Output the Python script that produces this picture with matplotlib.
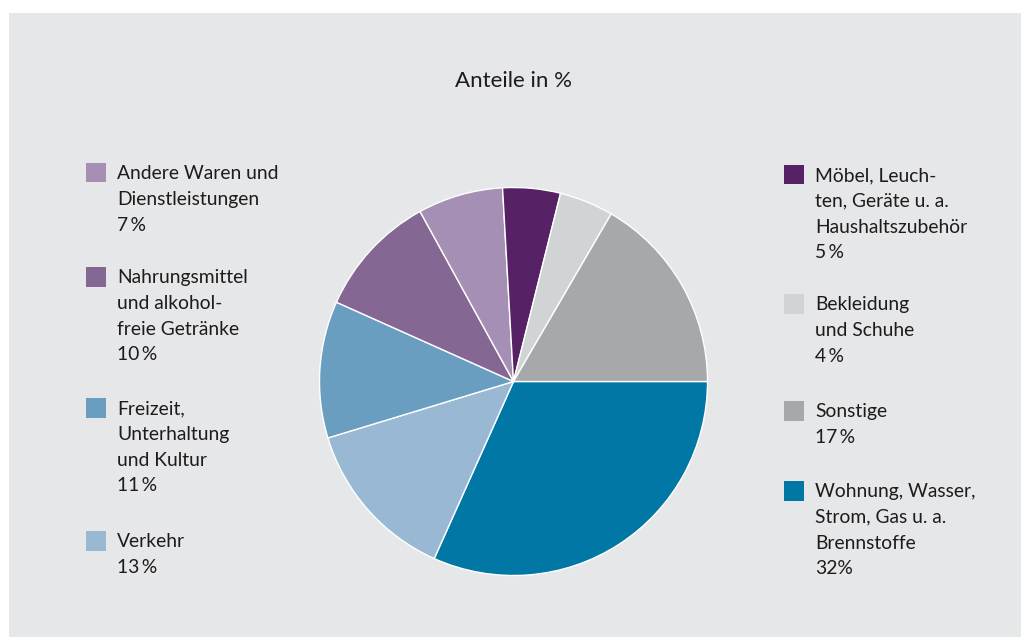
import matplotlib.pyplot as plt
from matplotlib.patches import Rectangle

W, H = 1021, 637

categories = [
    "Wohnung, Wasser,\nStrom, Gas u. a.\nBrennstoffe",
    "Verkehr",
    "Freizeit,\nUnterhaltung\nund Kultur",
    "Nahrungsmittel\nund alkohol-\nfreie Getränke",
    "Andere Waren und\nDienstleistungen",
    "Möbel, Leuch-\nten, Geräte u. a.\nHaushaltszubehör",
    "Bekleidung\nund Schuhe",
    "Sonstige",
]
# slice sizes (the printed labels are rounded)
shares = [31.7, 13.6, 11.4, 10.3, 7.1, 4.8, 4.5, 16.6]
share_labels = ["32%", "13\u2009%", "11\u2009%", "10\u2009%", "7\u2009%", "5\u2009%", "4\u2009%", "17\u2009%"]
colors = ["#0077a5", "#99b8d3", "#6a9ec0", "#846793", "#a58fb4", "#572165", "#d2d3d5", "#a7a8ab"]

# legend placement: (x of square, top of square) in px
legend_pos = {
    0: (784, 481), 1: (86, 531), 2: (86, 398), 3: (86, 267),
    4: (86, 163), 5: (784, 165), 6: (784, 294), 7: (784, 401),
}

plt.rcParams['font.family'] = ['Lato', 'DejaVu Sans']
text_color = "#1e1b1c"

fig = plt.figure(figsize=(W / 100, H / 100), dpi=100)
fig.patch.set_facecolor("white")
fig.patches.append(Rectangle((9 / W, 0), 1 - 9 / W, 1 - 13 / H, transform=fig.transFigure,
                             facecolor="#e6e7e8", edgecolor="none", zorder=-5))

def fx(px):
    return px / W

def fy(py):
    return 1 - py / H

# pie
cx, cy, r = 513.5, 381.5, 194
ax = fig.add_axes([fx(cx - r), fy(cy + r), 2 * r / W, 2 * r / H])
ax.pie(shares, colors=colors, startangle=0, counterclock=False, radius=1,
       wedgeprops=dict(edgecolor="white", linewidth=1.0))
ax.set_xlim(-1, 1)
ax.set_ylim(-1, 1)
ax.set_aspect("equal")
ax.axis("off")

fig.text(fx(513.5), fy(81), "Anteile in %", ha="center", va="center", fontsize=16, color=text_color)

line_step = 25.8
sq = 19.5
for i, (cat, lab) in enumerate(zip(categories, share_labels)):
    x, top = legend_pos[i]
    fig.patches.append(Rectangle((fx(x), fy(top + sq)), sq / W, sq / H, transform=fig.transFigure,
                                 facecolor=colors[i], edgecolor="none", zorder=2))
    lines = cat.split("\n") + [lab]
    tx = x + 31
    for j, line in enumerate(lines):
        fig.text(fx(tx), fy(top + 10.5 + j * line_step), line, ha="left", va="center",
                 fontsize=13.9, color=text_color)

fig.savefig("out.png", dpi=100, facecolor=fig.get_facecolor())
